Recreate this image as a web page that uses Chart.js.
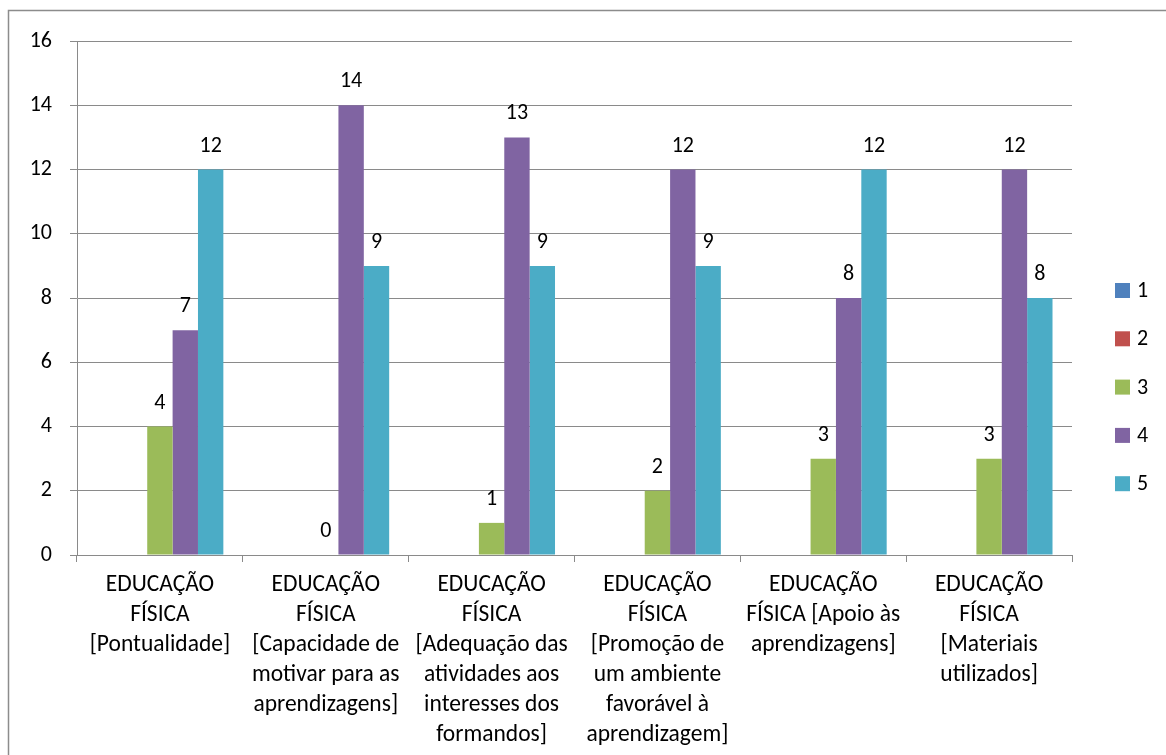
<!DOCTYPE html>
<html>
<head>
<meta charset="utf-8">
<script src="https://cdn.jsdelivr.net/npm/chart.js@4.4.0/dist/chart.umd.min.js"></script>
<style>
  html, body { margin: 0; padding: 0; background: #ffffff; }
  #wrap { width: 1166px; height: 755px; position: relative; }
</style>
</head>
<body>
<div id="wrap"><canvas id="c" width="1166" height="755"></canvas></div>
<script>
const categories = [
  ["EDUCAÇÃO", "FÍSICA", "[Pontualidade]"],
  ["EDUCAÇÃO", "FÍSICA", "[Capacidade de", "motivar para as", "aprendizagens]"],
  ["EDUCAÇÃO", "FÍSICA", "[Adequação das", "atividades aos", "interesses dos", "formandos]"],
  ["EDUCAÇÃO", "FÍSICA", "[Promoção de", "um ambiente", "favorável à", "aprendizagem]"],
  ["EDUCAÇÃO", "FÍSICA [Apoio às", "aprendizagens]"],
  ["EDUCAÇÃO", "FÍSICA", "[Materiais", "utilizados]"]
];
const seriesNames = ["1", "2", "3", "4", "5"];
const series1 = [null, null, null, null, null, null];
const series2 = [null, null, null, null, null, null];
const series3 = [4, 0, 1, 2, 3, 3];
const series4 = [7, 14, 13, 12, 8, 12];
const series5 = [12, 9, 9, 9, 12, 8];
const yTicks = [0, 2, 4, 6, 8, 10, 12, 14, 16];

const colors = ["#4F81BD", "#C0504D", "#9BBB59", "#8064A2", "#4BACC6"];
const FONT = "Carlito, Lato, sans-serif";
const GRID = "#8a8a8a";

const allSeries = [series1, series2, series3, series4, series5];

const frame = {
  id: "frame",
  beforeDraw(chart) {
    const ctx = chart.ctx;
    ctx.save();
    ctx.strokeStyle = "#8c8c8c";
    ctx.lineWidth = 1.5;
    ctx.beginPath();
    ctx.moveTo(8.5, 755);
    ctx.lineTo(8.5, 10.5);
    ctx.lineTo(1166, 10.5);
    ctx.stroke();
    ctx.restore();
  }
};

const valueLabels = {
  id: "valueLabels",
  afterDatasetsDraw(chart) {
    const ctx = chart.ctx;
    ctx.save();
    ctx.font = "22px " + FONT;
    ctx.fillStyle = "#000";
    ctx.textAlign = "center";
    ctx.textBaseline = "alphabetic";
    chart.data.datasets.forEach((ds, i) => {
      const meta = chart.getDatasetMeta(i);
      meta.data.forEach((el, j) => {
        const v = ds.data[j];
        if (v === null || v === undefined) return;
        ctx.fillText(String(v), el.x, el.y - 18);
      });
    });
    ctx.restore();
  }
};

const sideLegend = {
  id: "sideLegend",
  afterDraw(chart) {
    const ctx = chart.ctx;
    ctx.save();
    ctx.font = "22px " + FONT;
    ctx.textAlign = "left";
    ctx.textBaseline = "middle";
    chart.data.datasets.forEach((ds, i) => {
      const cy = 290.5 + i * 48.3;
      ctx.fillStyle = ds.backgroundColor;
      ctx.fillRect(1115, cy - 7.5, 15, 15);
      ctx.fillStyle = "#000";
      ctx.fillText(ds.label, 1137, cy + 1);
    });
    ctx.restore();
  }
};

new Chart(document.getElementById("c"), {
  type: "bar",
  data: {
    labels: categories,
    datasets: seriesNames.map((n, i) => ({
      label: n,
      data: allSeries[i],
      backgroundColor: colors[i],
      borderWidth: 0,
      categoryPercentage: 0.765,
      barPercentage: 1.0
    }))
  },
  options: {
    responsive: false,
    animation: false,
    devicePixelRatio: 1,
    layout: { padding: { left: 0, right: 94, top: 41, bottom: 0 } },
    plugins: {
      legend: { display: false },
      tooltip: { enabled: false }
    },
    scales: {
      x: {
        grid: {
          display: true,
          offset: true,
          drawOnChartArea: false,
          drawTicks: true,
          tickLength: 7,
          color: GRID
        },
        border: { display: true, color: GRID, width: 1 },
        ticks: {
          color: "#000",
          font: { family: FONT, size: 23.5, lineHeight: "30px" },
          padding: 8,
          maxRotation: 0,
          minRotation: 0,
          autoSkip: false
        },
        afterFit(scale) { scale.height = 200; }
      },
      y: {
        min: 0,
        max: 16,
        afterBuildTicks(scale) { scale.ticks = yTicks.map(v => ({ value: v })); },
        grid: {
          color: GRID,
          drawTicks: true,
          tickLength: 7
        },
        border: { display: true, color: GRID, width: 1 },
        ticks: {
          color: "#000",
          font: { family: FONT, size: 22 },
          padding: 18
        },
        afterFit(scale) { scale.width = 77; }
      }
    }
  },
  plugins: [frame, valueLabels, sideLegend]
});
</script>
</body>
</html>
